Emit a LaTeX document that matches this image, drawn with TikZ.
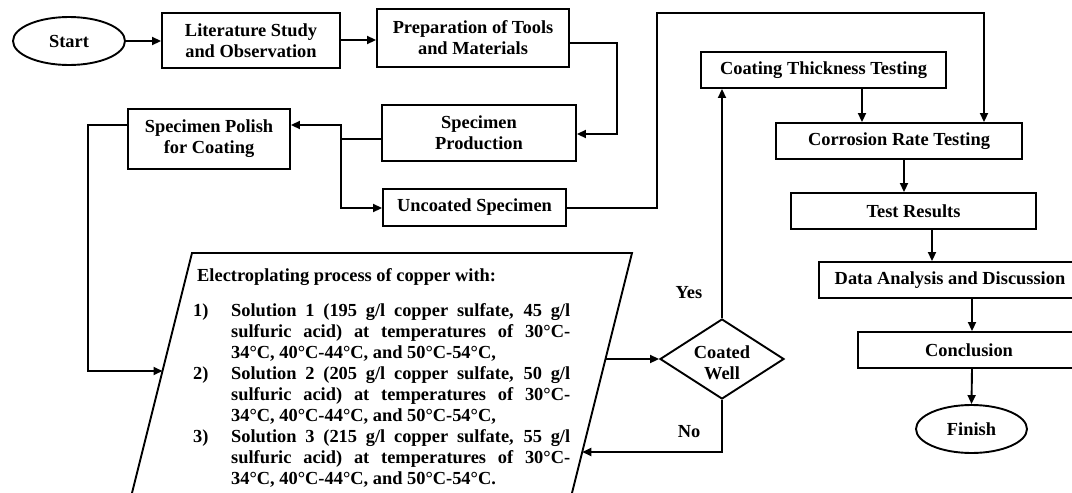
\documentclass[tikz,border=0pt]{standalone}
\usepackage{fontspec}
\setmainfont{Liberation Serif}
\usetikzlibrary{shapes.geometric,arrows.meta}
\begin{document}
\begin{tikzpicture}[x=1pt,y=-1pt,
  font=\fontsize{18.4}{21}\selectfont\bfseries,
  every node/.style={inner sep=0pt},
  box/.style={draw,line width=1.9pt,rectangle,align=center},
  oval/.style={draw,line width=1.9pt,ellipse},
  dia/.style={draw,line width=1.9pt,diamond,aspect=1.55},
  conn/.style={line width=1.9pt,-{Triangle[length=9pt,width=8pt]}},
  plain/.style={line width=1.9pt}]
\useasboundingbox (0,0) rectangle (1072,493);
\fill[white] (0,0) rectangle (1072,493);
\clip (0,0) rectangle (1072,493);

% nodes
\node[oval,minimum width=112pt,minimum height=48pt] (Start) at (69,41) {Start};
\node[box,minimum width=178pt,minimum height=55pt] (Lit) at (251,40.5) {Literature Study\\and Observation};
\node[box,minimum width=192pt,minimum height=58pt] (Prep) at (473,38) {Preparation of Tools\\and Materials};
\node[box,minimum width=194pt,minimum height=56pt] (SpecProd) at (479,133) {Specimen\\Production};
\node[box,minimum width=162pt,minimum height=60pt] (Polish) at (209,139) {Specimen Polish\\for Coating};
\node[box,minimum width=183pt,minimum height=37pt] (Uncoated) at (474.5,207.5) {Uncoated Specimen};
\node[box,minimum width=245pt,minimum height=36pt] (Coating) at (823.5,70) {Coating Thickness Testing};
\node[box,minimum width=246pt,minimum height=36pt] (Corrosion) at (899,141) {Corrosion Rate Testing};
\node[box,minimum width=245pt,minimum height=36pt] (Test) at (913.5,211) {Test Results};
\node[box,minimum width=262pt,minimum height=36pt] (Data) at (950,280) {Data Analysis and Discussion};
\node[box,minimum width=222pt,minimum height=36pt] (Concl) at (969,350) {Conclusion};
\node[oval,minimum width=111pt,minimum height=48pt] (Finish) at (971.5,429) {Finish};
\node[dia,minimum width=124pt,minimum height=80pt] (Dia) at (722,359) {};
\node[align=center] (DiaText) at (722,363) {Coated\\Well};

% parallelogram (cut by the page bottom)
\draw[plain,line join=miter] (122,533) -- (192,253) -- (632,253) -- (562,533);
\node[anchor=west] (title) at (197,277) {Electroplating process of copper with:};
\node[anchor=north west,align=left] (items) at (193,303) {%
\makebox[38pt][l]{1)}\makebox[339pt][s]{Solution 1 (195 g/l copper sulfate, 45 g/l}\\
\hspace*{38pt}\makebox[339pt][s]{sulfuric acid) at temperatures of 30°C-}\\
\hspace*{38pt}34°C, 40°C-44°C, and 50°C-54°C,\\
\makebox[38pt][l]{2)}\makebox[339pt][s]{Solution 2 (205 g/l copper sulfate, 50 g/l}\\
\hspace*{38pt}\makebox[339pt][s]{sulfuric acid) at temperatures of 30°C-}\\
\hspace*{38pt}34°C, 40°C-44°C, and 50°C-54°C,\\
\makebox[38pt][l]{3)}\makebox[339pt][s]{Solution 3 (215 g/l copper sulfate, 55 g/l}\\
\hspace*{38pt}\makebox[339pt][s]{sulfuric acid) at temperatures of 30°C-}\\
\hspace*{38pt}34°C, 40°C-44°C, and 50°C-54°C.};

\node (yes) at (689,293) {Yes};
\node (no) at (689,432) {No};

% helper coordinates
\coordinate (l1) at (0,40);
\coordinate (p1) at (617,43);
\coordinate (p2) at (617,134);
\coordinate (j1) at (341,139);
\coordinate (j2) at (341,125);
\coordinate (j3) at (341,208);
\coordinate (q1) at (88,125);
\coordinate (q2) at (88,371);
\coordinate (pin) at (162.5,371);
\coordinate (u1) at (657,208);
\coordinate (u2) at (657,13);
\coordinate (u3) at (984,13);
\coordinate (pout) at (605.5,359);
\coordinate (c1) at (862,0);
\coordinate (n1) at (722,452);
\coordinate (nin) at (582.25,452);
\coordinate (t1) at (904,0);
\coordinate (t2) at (932,0);
\coordinate (t3) at (972,0);

% connectors
\draw[conn] (Start.east) -- (Start.east -| Lit.west);
\draw[conn] (Lit.east |- l1) -- (Prep.west |- l1);
\draw[conn] (Prep.east |- p1) -- (p1) -- (p2) -- (p2 -| SpecProd.east);
\draw[plain] (SpecProd.west |- j1) -- (j1);
\draw[conn] (j1) -- (j2) -- (j2 -| Polish.east);
\draw[conn] (j1) -- (j3) -- (j3 -| Uncoated.west);
\draw[conn] (Polish.west |- q1) -- (q1) -- (q2) -- (pin);
\draw[conn] (Uncoated.east |- u1) -- (u1) -- (u2) -- (u3) -- (u3 |- Corrosion.north);
\draw[conn] (pout) -- (Dia.west);
\draw[conn] (Dia.north) -- (Dia.north |- Coating.south);
\draw[conn] (c1 |- Coating.south) -- (c1 |- Corrosion.north);
\draw[conn] (Dia.south) -- (n1) -- (nin);
\draw[conn] (t1 |- Corrosion.south) -- (t1 |- Test.north);
\draw[conn] (t2 |- Test.south) -- (t2 |- Data.north);
\draw[conn] (t3 |- Data.south) -- (t3 |- Concl.north);
\draw[conn] (t3 |- Concl.south) -- (Finish.north);
\end{tikzpicture}
\end{document}
